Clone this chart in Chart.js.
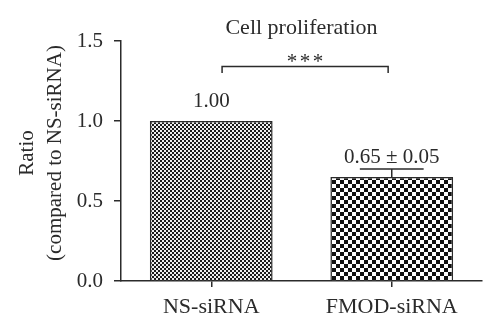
<!DOCTYPE html>
<html>
<head>
<meta charset="utf-8">
<script src="https://cdn.jsdelivr.net/npm/chart.js@4/dist/chart.umd.min.js"></script>
<style>
  html, body { margin: 0; padding: 0; background: #ffffff; }
  #wrap { width: 500px; height: 333px; position: relative; }
</style>
</head>
<body>
<div id="wrap"><canvas id="chart" width="500" height="333"></canvas></div>
<script>
// Cell proliferation ratios (relative to NS-siRNA)
const categories = ['NS-siRNA', 'FMOD-siRNA'];
const ratios = [1.00, 0.65];
const errors = [0, 0.05];
const yTicks = [0, 0.5, 1.0, 1.5];
const chartTitle = 'Cell proliferation';
const yTitleLines = ['Ratio', '(compared to NS-siRNA)'];
const significance = '***';
const bracketLevel = 1.34;

const valueLabels = ratios.map((r, i) =>
  errors[i] ? `${r.toFixed(2)} ± ${errors[i].toFixed(2)}` : r.toFixed(2));

const INK = '#2b2b2b';
const FONT = '"Liberation Serif", "Times New Roman", serif';

// checkerboard fills for the two bars
function checker(cell, dark, light) {
  const c = document.createElement('canvas');
  c.width = cell * 2; c.height = cell * 2;
  const g = c.getContext('2d');
  g.fillStyle = light; g.fillRect(0, 0, c.width, c.height);
  g.fillStyle = dark;
  g.fillRect(0, 0, cell, cell);
  g.fillRect(cell, cell, cell, cell);
  return g.createPattern(c, 'repeat');
}
const ctx = document.getElementById('chart').getContext('2d');
const fills = [checker(2, '#1a1a1a', '#eeeeee'), checker(4, '#111111', '#ffffff')];

// titles, error bar, value labels and significance bracket
const annotations = {
  id: 'annotations',
  afterDatasetsDraw(chart) {
    const g = chart.ctx;
    const x = chart.scales.x, y = chart.scales.y;
    const bars = chart.getDatasetMeta(0).data;
    g.save();
    g.fillStyle = INK;
    g.strokeStyle = INK;

    // error whiskers
    g.lineWidth = 1.5;
    bars.forEach((bar, i) => {
      if (!errors[i]) return;
      const top = y.getPixelForValue(ratios[i] + errors[i]);
      const half = bar.width * 0.26;
      g.beginPath();
      g.moveTo(bar.x, bar.y);
      g.lineTo(bar.x, top);
      g.moveTo(bar.x - half, top);
      g.lineTo(bar.x + half, top);
      g.stroke();
    });

    // value labels
    g.font = `21px ${FONT}`;
    g.textAlign = 'center';
    g.textBaseline = 'middle';
    bars.forEach((bar, i) => {
      g.fillText(valueLabels[i], bar.x, bar.y - 20);
    });

    // significance bracket
    const bl = x.getPixelForValue(0.06);
    const br = x.getPixelForValue(0.98);
    const by = y.getPixelForValue(bracketLevel);
    const drop = y.getPixelForValue(bracketLevel - 0.04) - by;
    g.lineWidth = 1.5;
    g.beginPath();
    g.moveTo(bl, by + drop);
    g.lineTo(bl, by);
    g.lineTo(br, by);
    g.lineTo(br, by + drop);
    g.stroke();
    g.font = `21px ${FONT}`;
    g.textBaseline = 'alphabetic';
    const stars = significance.split('');
    const step = 13;
    const cx = (bl + br) / 2;
    stars.forEach((s, i) => {
      g.fillText(s, cx + (i - (stars.length - 1) / 2) * step, by + 1);
    });

    // chart title
    const ca = chart.chartArea;
    g.textBaseline = 'middle';
    g.font = `22px ${FONT}`;
    g.fillText(chartTitle, (ca.left + ca.right) / 2, 28);

    // rotated y-axis title
    const midY = (ca.top + ca.bottom) / 2 - 8;
    g.font = `21px ${FONT}`;
    g.translate(0, midY);
    g.rotate(-Math.PI / 2);
    g.fillText(yTitleLines[0], 0, 27);
    g.fillText(yTitleLines[1], 0, 55);
    g.restore();
  }
};

new Chart(ctx, {
  type: 'bar',
  data: {
    labels: categories,
    datasets: [{
      data: ratios,
      backgroundColor: fills,
      borderColor: INK,
      borderWidth: 1.5,
      borderSkipped: 'bottom',
      barPercentage: 0.68,
      categoryPercentage: 1.0
    }]
  },
  options: {
    responsive: false,
    animation: false,
    devicePixelRatio: 1,
    layout: { padding: { top: 41, right: 18, left: 0, bottom: 0 } },
    plugins: { legend: { display: false }, tooltip: { enabled: false } },
    scales: {
      x: {
        grid: { offset: false, drawOnChartArea: false, tickLength: 6, color: INK, lineWidth: 1.5 },
        border: { color: INK, width: 1.5 },
        ticks: { color: INK, font: { family: FONT, size: 22 }, padding: 7 },
        afterFit(s) { s.height = 52; }
      },
      y: {
        min: 0, max: 1.5,
        afterBuildTicks(s) { s.ticks = yTicks.map(v => ({ value: v })); },
        grid: { drawOnChartArea: false, tickLength: 7, color: INK, lineWidth: 1.5 },
        border: { color: INK, width: 1.5 },
        ticks: { color: INK, font: { family: FONT, size: 21 }, padding: 11,
                 callback: v => Number(v).toFixed(1) },
        afterFit(s) { s.width = 121; }
      }
    }
  },
  plugins: [annotations]
});
</script>
</body>
</html>
